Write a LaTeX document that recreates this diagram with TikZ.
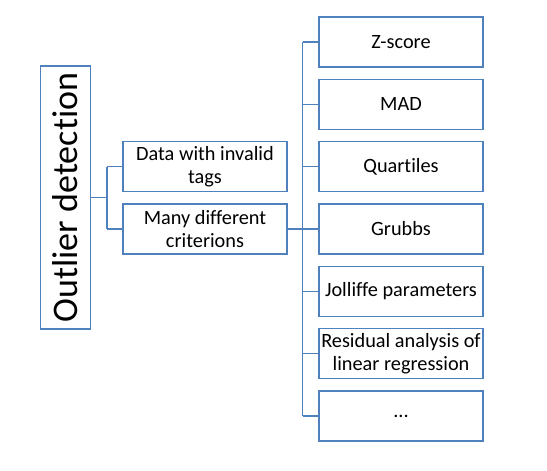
\documentclass[tikz,border=0pt]{standalone}
\usepackage{fontspec}
\setmainfont{Carlito}[Ligatures={NoCommon}]
\definecolor{boxblue}{RGB}{79,129,189}

\begin{document}
\begin{tikzpicture}[x=1pt,y=-1pt,
    box/.style={draw=boxblue, line width=1.1pt, minimum width=164pt, minimum height=50pt,
        inner sep=0pt, align=center, font=\fontsize{20.3}{23}\selectfont},
    link/.style={draw=boxblue, line width=1.1pt}]
    % Fix the canvas
    \useasboundingbox (0,0) rectangle (547,471);
    
    % Root, turned upright
    \node[draw=boxblue, line width=1.1pt, minimum width=263pt, minimum height=50.5pt,
        inner sep=0pt, rotate=90, font=\fontsize{36}{40}\selectfont] (root) at (65.3,197.5) {Outlier detection};
    
    % Middle level
    \node[box] (tags) at (205,166.5) {Data with invalid\\tags};
    \node[box] (crit) at (205,229) {Many different\\criterions};
    
    % Criteria column
    \node[box] (zscore) at (401,42) {Z-score};
    \node[box] (mad) at (401,104.3) {MAD};
    \node[box] (quart) at (401,166.6) {Quartiles};
    \node[box] (grubbs) at (401,229) {Grubbs};
    \node[box] (jolliffe) at (401,291.3) {Jolliffe parameters};
    \node[box] (resid) at (401,353.6) {Residual analysis of\\linear regression};
    \node[box] (more) at (401,416) {...};
    
    % Links from the root
    \coordinate (fork) at (107,197.5);
    \draw[link] (root.south) -- (fork);
    \draw[link] (fork |- tags.west) -- (fork |- crit.west);
    \draw[link] (fork |- tags.west) -- (tags.west);
    \draw[link] (fork |- crit.west) -- (crit.west);
    
    % Links to the criteria
    \coordinate (spine) at (302.5,229);
    \draw[link] (crit.east) -- (spine);
    \draw[link] (spine |- zscore.west) -- (spine |- more.west);
    \foreach \n in {zscore,mad,quart,grubbs,jolliffe,resid,more}
        \draw[link] (spine |- \n.west) -- (\n.west);
\end{tikzpicture}
\end{document}
